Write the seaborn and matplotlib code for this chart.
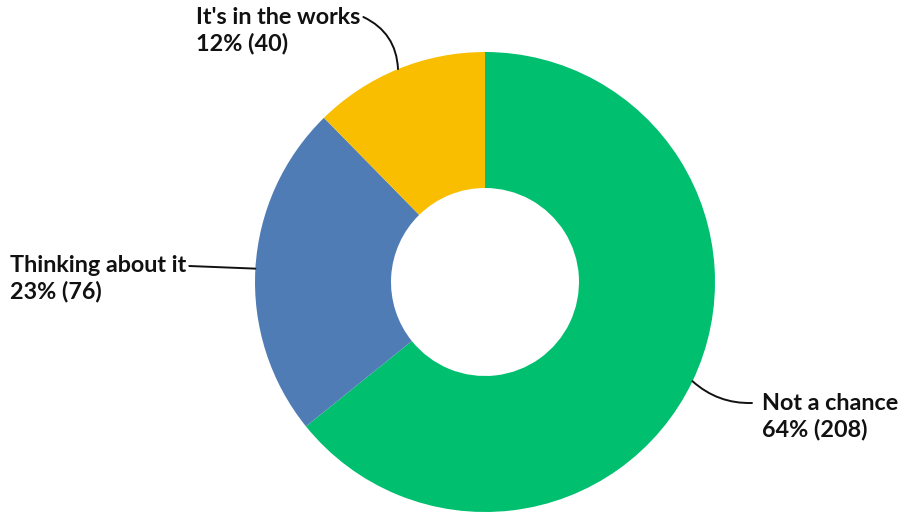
import matplotlib
matplotlib.use("Agg")
import matplotlib.pyplot as plt
import seaborn as sns
import numpy as np

sns.set_theme(style="white")
plt.rcParams["font.family"] = ["Lato", "DejaVu Sans"]

categories = ["Not a chance", "Thinking about it", "It's in the works"]
counts = [208, 76, 40]
percents = [64, 23, 12]
colors = ["#00BF6F", "#507CB6", "#F9BE00"]

W, H = 898, 513
fig = plt.figure(figsize=(W / 100, H / 100), dpi=100)
ax = fig.add_axes([0, 0, 1, 1])

cx, cy, R = 485, 231, 230
wedges, _ = ax.pie(counts, colors=colors, startangle=90, counterclock=False,
                   center=(cx, cy), radius=R,
                   wedgeprops=dict(width=R - 94, linewidth=0))
ax.set_xlim(0, W)
ax.set_ylim(0, H)
ax.set_aspect("equal")
ax.axis("off")

# block left x, first-line y, which side the leader meets, connection style
label_pos = [
    (762, 110, "left", "arc3,rad=-0.2"),
    (10, 247, "right", "arc3,rad=0.0"),
    (196, 496, "right", "arc3,rad=-0.3"),
]

fig.canvas.draw()
renderer = fig.canvas.get_renderer()
inv = ax.transData.inverted()

for w, cat, n, p, (tx, ty, side, cs) in zip(wedges, categories, counts, percents, label_pos):
    mid = np.deg2rad((w.theta1 + w.theta2) / 2)
    anchor = (cx + R * np.cos(mid), cy + R * np.sin(mid))
    t1 = ax.text(tx, ty, cat, ha="left", va="center", fontsize=16.8, fontweight="bold",
                 color="#111111")
    ax.text(tx, ty - 26, f"{p}% ({n})", ha="left", va="center", fontsize=16.8,
            fontweight="bold", color="#111111")
    bb = inv.transform(t1.get_window_extent(renderer))
    lx = bb[1][0] + 3 if side == "right" else bb[0][0] - 10
    ax.annotate("", xy=anchor, xytext=(lx, ty),
                arrowprops=dict(arrowstyle="-", color="#111111", lw=1.4,
                                connectionstyle=cs, shrinkA=0, shrinkB=0))

fig.savefig("out.png", dpi=100, facecolor="white")
